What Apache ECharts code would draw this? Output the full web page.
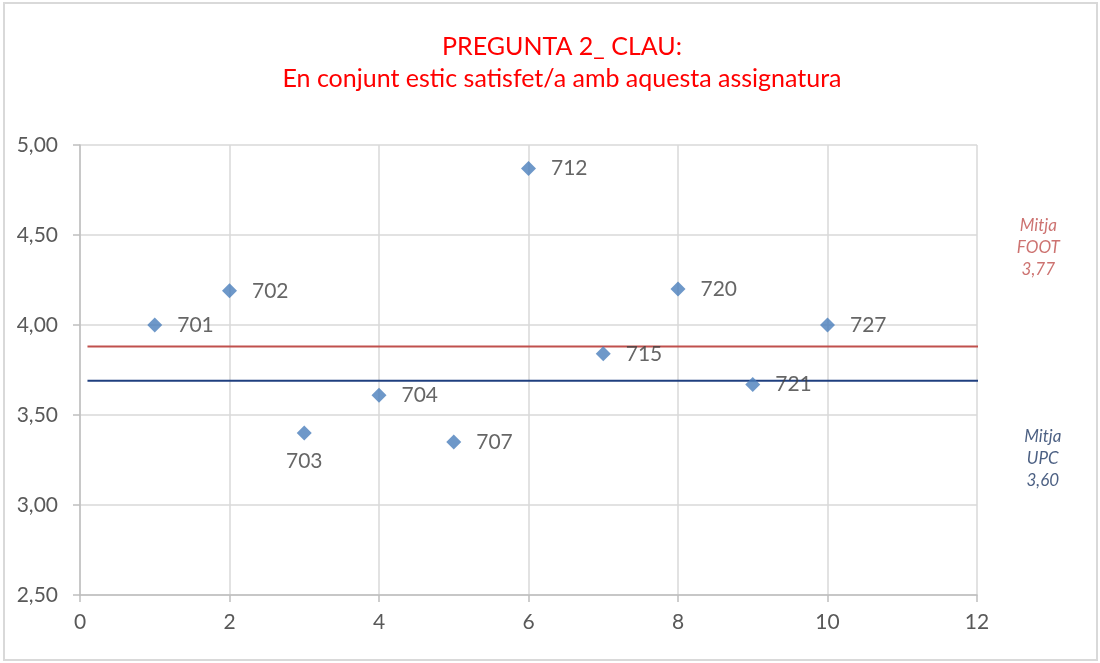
<!DOCTYPE html>
<html>
<head>
<meta charset="utf-8">
<script src="https://cdn.jsdelivr.net/npm/echarts@6/dist/echarts.min.js"></script>
<style>
  html, body { margin: 0; padding: 0; background: #fff; }
  #chart { width: 1100px; height: 663px; }
</style>
</head>
<body>
<div id="chart"></div>
<script>
const FONT = "Lato, 'Open Sans', sans-serif";

// groups and their scores
const groupNames = ["701", "702", "703", "704", "707", "712", "715", "720", "721", "727"];
const groupX = [1, 2, 3, 4, 5, 6, 7, 8, 9, 10];
const groupScores = [4.0, 4.19, 3.4, 3.61, 3.35, 4.87, 3.84, 4.2, 3.67, 4.0];

// reference averages (drawn position / printed label)
const footLineX = [0.1, 13.15];
const footMean = 3.88;
const footLabel = "Mitja\nFOOT\n3,77";
const footLabelPos = [12.82, 4.43];

const upcLineX = [0.1, 13.15];
const upcMean = 3.69;
const upcLabel = "Mitja\nUPC\n3,60";
const upcLabelPos = [12.88, 3.26];

const xTicks = [0, 2, 4, 6, 8, 10, 12];
const yTicks = [2.5, 3.0, 3.5, 4.0, 4.5, 5.0];

let myChart = echarts.init(document.getElementById("chart"));

let option = {
  animation: false,
  title: {
    text: "PREGUNTA 2_ CLAU:\nEn conjunt estic satisfet/a amb aquesta assignatura",
    left: 557,
    textAlign: "center",
    top: 26,
    textStyle: {
      color: "#ff0000",
      fontFamily: FONT,
      fontWeight: "normal",
      fontSize: 25,
      lineHeight: 32,
    },
  },
  graphic: [
    {
      type: "rect",
      shape: { x: 4, y: 3, width: 1093, height: 657 },
      style: { fill: "none", stroke: "#d9d9d9", lineWidth: 2 },
      silent: true,
    },
  ],
  grid: { left: 80, right: 123, top: 145, bottom: 68 },
  xAxis: {
    type: "value",
    min: xTicks[0],
    max: xTicks[xTicks.length - 1],
    interval: 2,
    axisLine: { show: true, lineStyle: { color: "#bfbfbf", width: 1.5 } },
    axisTick: { show: true, length: 7, lineStyle: { color: "#bfbfbf", width: 1.5 } },
    splitLine: { show: true, lineStyle: { color: "#d9d9d9", width: 1.5 } },
    axisLabel: {
      color: "#595959",
      fontFamily: FONT,
      fontSize: 21,
      margin: 17,
    },
  },
  yAxis: {
    type: "value",
    min: yTicks[0],
    max: yTicks[yTicks.length - 1],
    interval: 0.5,
    axisLine: { show: true, lineStyle: { color: "#bfbfbf", width: 1.5 } },
    axisTick: { show: true, length: 7, lineStyle: { color: "#bfbfbf", width: 1.5 } },
    splitLine: { show: true, lineStyle: { color: "#d9d9d9", width: 1.5 } },
    axisLabel: {
      color: "#595959",
      fontFamily: FONT,
      fontSize: 21,
      margin: 22,
      formatter: function (value) {
        return value.toFixed(2).replace(".", ",");
      },
    },
  },
  series: [
    {
      name: "FOOT",
      type: "line",
      clip: false,
      symbol: "none",
      data: footLineX.map((x) => [x, footMean]),
      lineStyle: { color: "#C0504D", width: 2 },
      z: 3,
    },
    {
      name: "UPC",
      type: "line",
      clip: false,
      symbol: "none",
      data: upcLineX.map((x) => [x, upcMean]),
      lineStyle: { color: "#1F3F7F", width: 2 },
      z: 3,
    },
    {
      name: "grups",
      type: "scatter",
      symbol: "diamond",
      symbolSize: [15, 15],
      itemStyle: { color: "#4A7EBB" },
      z: 5,
      data: groupX.map((x, i) => ({
        value: [x, groupScores[i]],
        name: groupNames[i],
        label: groupNames[i] === "703" ? { position: "bottom", distance: 10 } : undefined,
      })),
      label: {
        show: true,
        position: "right",
        distance: 15,
        formatter: (p) => p.name,
        color: "#404040",
        fontFamily: FONT,
        fontSize: 21,
      },
    },
    {
      name: "notes",
      type: "scatter",
      clip: false,
      symbolSize: 0,
      silent: true,
      data: [
        { value: footLabelPos, name: footLabel, label: { color: "#C0504D" } },
        { value: upcLabelPos, name: upcLabel, label: { color: "#1F3864" } },
      ],
      label: {
        show: true,
        position: "inside",
        formatter: (p) => p.name,
        fontFamily: FONT,
        fontStyle: "italic",
        fontSize: 17,
        lineHeight: 22,
        align: "center",
      },
    },
  ],
};

option && myChart.setOption(option);
</script>
</body>
</html>
